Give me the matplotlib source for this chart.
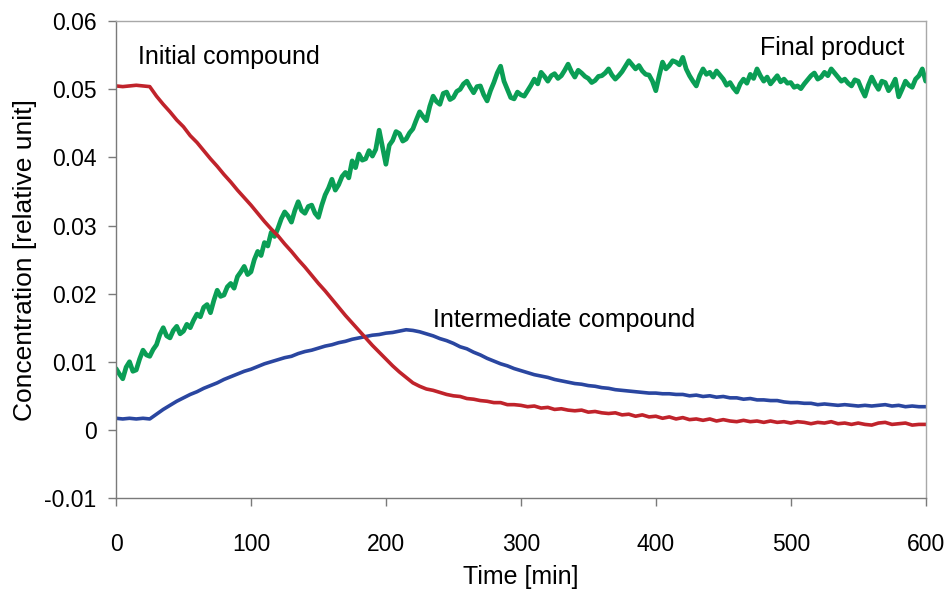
import numpy as np
import matplotlib
matplotlib.use("Agg")
import matplotlib.pyplot as plt

plt.rcParams['font.family'] = ['Liberation Sans', 'DejaVu Sans']

# Sampling times [min] for the two smoother traces
time_min = list(range(0, 601, 5))

# Initial compound concentration
initial_compound = [
    0.0505, 0.0504, 0.0505, 0.0506, 0.0505, 0.0504, 0.0490, 0.0478, 0.0467, 0.0455,
    0.0445, 0.0432, 0.0422, 0.0410, 0.0398, 0.0387, 0.0375, 0.0364, 0.0352, 0.0341,
    0.0330, 0.0318, 0.0306, 0.0295, 0.0285, 0.0273, 0.0262, 0.0250, 0.0239, 0.0227,
    0.0215, 0.0204, 0.0192, 0.0180, 0.0168, 0.0157, 0.0146, 0.0135, 0.0124, 0.0114,
    0.0104, 0.0094, 0.0085, 0.0077, 0.0069, 0.0064, 0.0060, 0.0058, 0.0055, 0.0052,
    0.0050, 0.0049, 0.0046, 0.0045, 0.0043, 0.0042, 0.0040, 0.0040, 0.0037, 0.0037,
    0.0036, 0.0034, 0.0035, 0.0032, 0.0033, 0.0030, 0.0031, 0.0029, 0.0028, 0.0029,
    0.0026, 0.0027, 0.0025, 0.0024, 0.0025, 0.0022, 0.0023, 0.0020, 0.0022, 0.0019,
    0.0020, 0.0017, 0.0019, 0.0016, 0.0018, 0.0015, 0.0016, 0.0014, 0.0016, 0.0013,
    0.0015, 0.0013, 0.0012, 0.0014, 0.0012, 0.0013, 0.0011, 0.0013, 0.0011, 0.0012,
    0.0010, 0.0012, 0.0011, 0.0009, 0.0011, 0.0010, 0.0012, 0.0009, 0.0010, 0.0008,
    0.0010, 0.0008, 0.0007, 0.0010, 0.0011, 0.0008, 0.0009, 0.0010, 0.0007, 0.0008,
    0.0008,
]

# Intermediate compound concentration
intermediate_compound = [
    0.0017, 0.0016, 0.0017, 0.0016, 0.0017, 0.0016, 0.0023, 0.0030, 0.0036, 0.0042,
    0.0047, 0.0052, 0.0056, 0.0061, 0.0065, 0.0069, 0.0074, 0.0078, 0.0082, 0.0086,
    0.0089, 0.0093, 0.0097, 0.0100, 0.0103, 0.0106, 0.0108, 0.0112, 0.0115, 0.0117,
    0.0120, 0.0123, 0.0125, 0.0128, 0.0130, 0.0133, 0.0135, 0.0137, 0.0139, 0.0140,
    0.0142, 0.0143, 0.0145, 0.0147, 0.0146, 0.0144, 0.0141, 0.0138, 0.0134, 0.0131,
    0.0127, 0.0122, 0.0119, 0.0114, 0.0110, 0.0105, 0.0101, 0.0097, 0.0094, 0.0090,
    0.0087, 0.0084, 0.0081, 0.0079, 0.0077, 0.0074, 0.0072, 0.0070, 0.0068, 0.0067,
    0.0065, 0.0064, 0.0062, 0.0061, 0.0059, 0.0058, 0.0057, 0.0056, 0.0055, 0.0054,
    0.0054, 0.0053, 0.0053, 0.0052, 0.0052, 0.0050, 0.0051, 0.0049, 0.0050, 0.0048,
    0.0049, 0.0047, 0.0047, 0.0045, 0.0046, 0.0044, 0.0044, 0.0043, 0.0043, 0.0041,
    0.0040, 0.0040, 0.0039, 0.0039, 0.0037, 0.0038, 0.0037, 0.0036, 0.0037, 0.0036,
    0.0035, 0.0036, 0.0035, 0.0036, 0.0037, 0.0035, 0.0036, 0.0034, 0.0035, 0.0034,
    0.0034,
]

# Final product is sampled more densely (every 2.5 min)
product_time_min = [i * 2.5 for i in range(241)]

final_product = [
    0.0090, 0.0082, 0.0075, 0.0092, 0.0100, 0.0086, 0.0088, 0.0104, 0.0117, 0.0110,
    0.0108, 0.0118, 0.0125, 0.0140, 0.0150, 0.0138, 0.0135, 0.0146, 0.0152, 0.0141,
    0.0145, 0.0155, 0.0150, 0.0161, 0.0170, 0.0166, 0.0180, 0.0184, 0.0172, 0.0190,
    0.0205, 0.0196, 0.0198, 0.0210, 0.0215, 0.0208, 0.0225, 0.0232, 0.0240, 0.0228,
    0.0232, 0.0250, 0.0262, 0.0256, 0.0275, 0.0270, 0.0290, 0.0284, 0.0296, 0.0310,
    0.0320, 0.0314, 0.0305, 0.0322, 0.0335, 0.0322, 0.0318, 0.0328, 0.0330, 0.0318,
    0.0312, 0.0330, 0.0345, 0.0355, 0.0368, 0.0352, 0.0360, 0.0372, 0.0378, 0.0370,
    0.0395, 0.0385, 0.0405, 0.0396, 0.0398, 0.0410, 0.0402, 0.0412, 0.0440, 0.0415,
    0.0390, 0.0418, 0.0425, 0.0438, 0.0435, 0.0424, 0.0427, 0.0436, 0.0442, 0.0455,
    0.0467, 0.0460, 0.0454, 0.0475, 0.0490, 0.0482, 0.0478, 0.0494, 0.0496, 0.0485,
    0.0488, 0.0497, 0.0500, 0.0508, 0.0512, 0.0503, 0.0495, 0.0504, 0.0505, 0.0492,
    0.0483, 0.0498, 0.0510, 0.0524, 0.0534, 0.0512, 0.0500, 0.0488, 0.0486, 0.0496,
    0.0492, 0.0490, 0.0498, 0.0506, 0.0515, 0.0508, 0.0525, 0.0519, 0.0512, 0.0520,
    0.0523, 0.0516, 0.0520, 0.0528, 0.0537, 0.0526, 0.0518, 0.0528, 0.0524, 0.0519,
    0.0516, 0.0510, 0.0513, 0.0519, 0.0520, 0.0524, 0.0530, 0.0521, 0.0515, 0.0520,
    0.0526, 0.0534, 0.0542, 0.0536, 0.0530, 0.0535, 0.0527, 0.0522, 0.0521, 0.0512,
    0.0498, 0.0520, 0.0540, 0.0530, 0.0535, 0.0542, 0.0540, 0.0536, 0.0547, 0.0530,
    0.0520, 0.0512, 0.0505, 0.0520, 0.0530, 0.0522, 0.0525, 0.0518, 0.0527, 0.0521,
    0.0515, 0.0506, 0.0510, 0.0502, 0.0496, 0.0508, 0.0515, 0.0509, 0.0522, 0.0516,
    0.0530, 0.0520, 0.0512, 0.0518, 0.0508, 0.0514, 0.0520, 0.0511, 0.0515, 0.0509,
    0.0510, 0.0503, 0.0505, 0.0501, 0.0508, 0.0514, 0.0520, 0.0524, 0.0515, 0.0518,
    0.0525, 0.0520, 0.0530, 0.0524, 0.0518, 0.0512, 0.0515, 0.0509, 0.0505, 0.0514,
    0.0512, 0.0500, 0.0490, 0.0506, 0.0518, 0.0508, 0.0500, 0.0512, 0.0510, 0.0498,
    0.0505, 0.0515, 0.0489, 0.0500, 0.0512, 0.0506, 0.0503, 0.0515, 0.0520, 0.0530,
    0.0512,
]

x_ticks = [0, 100, 200, 300, 400, 500, 600]
y_ticks = [-0.01, 0.0, 0.01, 0.02, 0.03, 0.04, 0.05, 0.06]
y_tick_labels = ["-0.01", "0", "0.01", "0.02", "0.03", "0.04", "0.05", "0.06"]

fig = plt.figure(figsize=(9.47, 5.90), dpi=100)
ax = fig.add_axes([0.1225, 0.156, 0.855, 0.808])

ax.plot(product_time_min, final_product, color="#0a9e55", lw=3.4,
        solid_joinstyle="round", solid_capstyle="round")
ax.plot(time_min, intermediate_compound, color="#2a46a0", lw=2.6,
        solid_joinstyle="round")
ax.plot(time_min, initial_compound, color="#c0232b", lw=2.6,
        solid_joinstyle="round")

ax.set_xlim(0, 600)
ax.set_ylim(-0.01, 0.06)
ax.set_xticks(x_ticks)
ax.set_xticklabels([str(v) for v in x_ticks])
ax.set_yticks(y_ticks)
ax.set_yticklabels(y_tick_labels)

ax.tick_params(axis="both", direction="out", length=6, width=1, color="#7a7a7a",
               labelsize=16.5)
ax.tick_params(axis="x", pad=19)
ax.tick_params(axis="y", pad=8)

for side in ("left", "bottom"):
    ax.spines[side].set_color("#7a7a7a")
    ax.spines[side].set_linewidth(1.0)
for side in ("top", "right"):
    ax.spines[side].set_color("#a8a8a8")
    ax.spines[side].set_linewidth(1.0)

ax.set_xlabel("Time [min]", fontsize=18, labelpad=7)
ax.set_ylabel("Concentration [relative unit]", fontsize=19, labelpad=5)

ax.text(16, 0.0548, "Initial compound", fontsize=18, ha="left", va="center")
ax.text(584, 0.0561, "Final product", fontsize=18, ha="right", va="center")
ax.text(235, 0.0161, "Intermediate compound", fontsize=18, ha="left", va="center")

fig.savefig("out.png", dpi=100)
